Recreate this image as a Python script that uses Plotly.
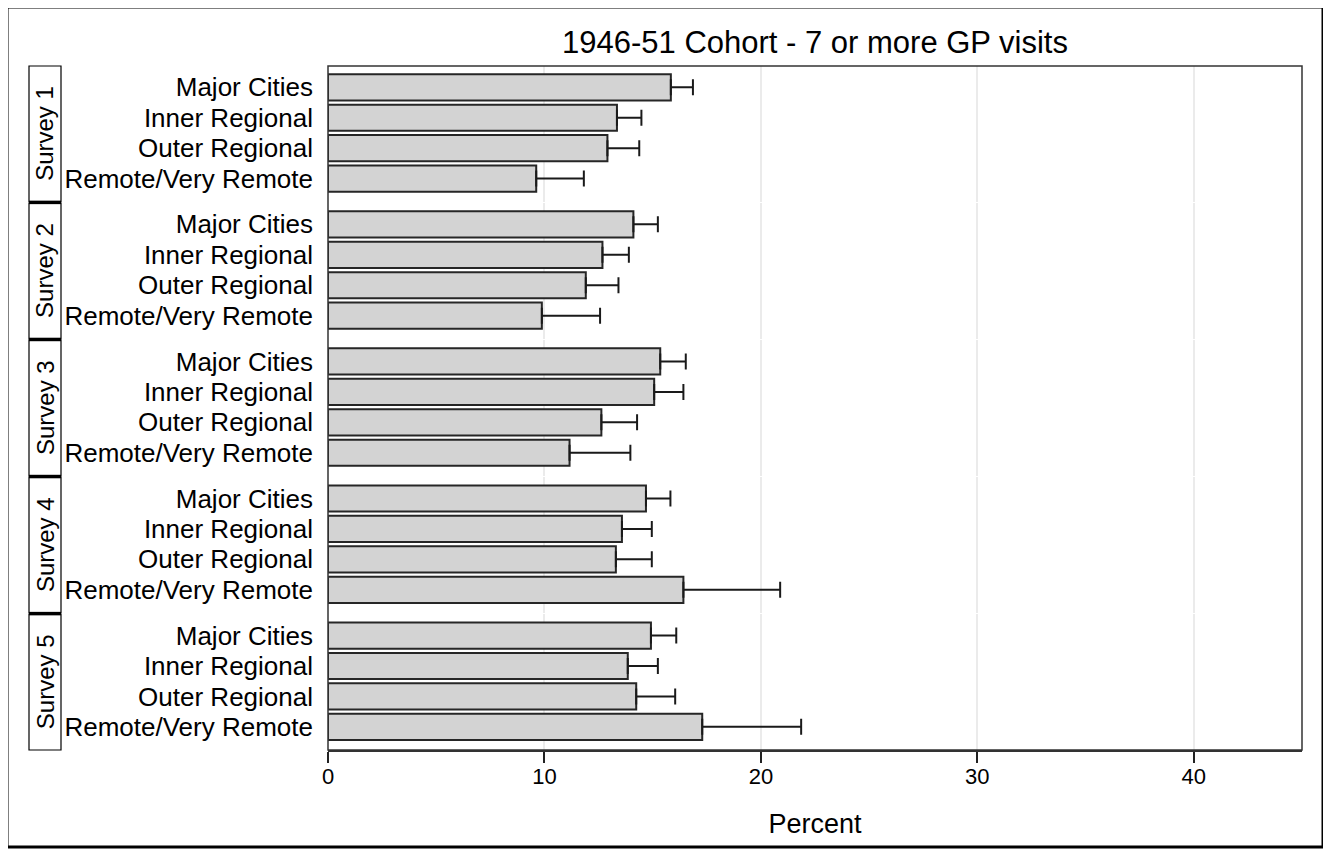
import plotly.graph_objects as go
from plotly.subplots import make_subplots

surveys = ["Survey 1", "Survey 2", "Survey 3", "Survey 4", "Survey 5"]
regions = ["Major Cities", "Inner Regional", "Outer Regional", "Remote/Very Remote"]

pct_s1 = [15.84, 13.35, 12.91, 9.62]
pct_s2 = [14.11, 12.68, 11.91, 9.88]
pct_s3 = [15.35, 15.07, 12.63, 11.16]
pct_s4 = [14.69, 13.58, 13.30, 16.42]
pct_s5 = [14.92, 13.85, 14.24, 17.29]

upper_s1 = [16.86, 14.48, 14.38, 11.82]
upper_s2 = [15.24, 13.90, 13.42, 12.57]
upper_s3 = [16.53, 16.42, 14.28, 13.97]
upper_s4 = [15.82, 14.96, 14.96, 20.89]
upper_s5 = [16.09, 15.24, 16.04, 21.86]

x_ticks = [0, 10, 20, 30, 40]

pcts = [pct_s1, pct_s2, pct_s3, pct_s4, pct_s5]
uppers = [upper_s1, upper_s2, upper_s3, upper_s4, upper_s5]

# page offset of the browser body (default 8px margin)
O = 8
W, H = 1331 - O, 854 - O
L, T = 328 - O, 66 - O
R = W - (1302 - O)
B = H - (750 - O)
pw = W - L - R
ph = H - T - B

FONT = "Liberation Sans, Arial, sans-serif"

fig = make_subplots(rows=5, cols=1, shared_xaxes=True, vertical_spacing=0.002)

for i in range(5):
    p = pcts[i]
    u = uppers[i]
    fig.add_trace(go.Bar(
        x=p, y=regions, orientation="h", width=0.86,
        marker=dict(color="#d3d3d3", line=dict(color="#262626", width=2)),
        error_x=dict(type="data", symmetric=False,
                     array=[a - b for a, b in zip(u, p)],
                     arrayminus=[0] * len(p),
                     color="#1a1a1a", thickness=2, width=8),
        showlegend=False, hoverinfo="x+y",
    ), row=i + 1, col=1)
    fig.update_yaxes(row=i + 1, col=1, type="category",
                     categoryorder="array", categoryarray=regions,
                     tickmode="array", tickvals=regions, ticktext=regions,
                     range=[3.76, -0.70], showgrid=False, zeroline=False,
                     showline=False, ticks="", ticklabelstandoff=14,
                     tickfont=dict(family=FONT, size=26, color="black"))
    fig.update_xaxes(row=i + 1, col=1, range=[0, 45], tickvals=x_ticks,
                     showgrid=True, gridcolor="#ebebeb", gridwidth=1.5,
                     zeroline=False, showline=False)

fig.update_xaxes(row=5, col=1, showline=True, linecolor="#333333", linewidth=1.5,
                 ticks="outside", ticklen=11, tickwidth=1.5, tickcolor="#222222",
                 ticklabelstandoff=-5,
                 tickfont=dict(family=FONT, size=22, color="black"),
                 title=dict(text="Percent", font=dict(family=FONT, size=27, color="black"),
                            standoff=26))

shapes = []
annotations = []
sx0 = (29 - O - L) / pw
sx1 = (61 - O - L) / pw
doms = []
for i in range(5):
    key = "yaxis" if i == 0 else f"yaxis{i + 1}"
    doms.append(fig.layout[key].domain)
for i in range(5):
    d = doms[i]
    shapes.append(dict(type="rect", xref="paper", yref="paper", x0=sx0, x1=sx1,
                       y0=d[0], y1=d[1], line=dict(color="black", width=1.2),
                       fillcolor="white"))
    annotations.append(dict(text=surveys[i], xref="paper", yref="paper",
                            x=(sx0 + sx1) / 2, y=(d[0] + d[1]) / 2, textangle=-90,
                            showarrow=False, xanchor="center", yanchor="middle",
                            font=dict(family=FONT, size=24, color="black")))
for i in range(4):
    yb = (doms[i][0] + doms[i + 1][1]) / 2
    shapes.append(dict(type="line", xref="paper", yref="paper", x0=sx0, x1=sx1,
                       y0=yb, y1=yb, line=dict(color="black", width=3.5)))
# plot border
shapes.append(dict(type="rect", xref="paper", yref="paper", x0=0, x1=1, y0=0, y1=1,
                   line=dict(color="#333333", width=1.5)))
# outer frame
shapes.append(dict(type="rect", xref="paper", yref="paper",
                   x0=(7 - O - L) / pw, x1=(1323 - O - L) / pw,
                   y0=(ph - (847 - O - T)) / ph, y1=(ph - (7 - O - T)) / ph,
                   line=dict(color="black", width=3)))

fig.update_layout(
    width=W, height=H,
    margin=dict(l=L, r=R, t=T, b=B),
    paper_bgcolor="white", plot_bgcolor="white",
    title=dict(text="1946-51 Cohort - 7 or more GP visits", x=(L + pw / 2) / W,
               xanchor="center", y=1 - (42 - O) / H, yanchor="middle",
               font=dict(family=FONT, size=31, color="black")),
    shapes=shapes, annotations=annotations,
)

fig.write_html("out.html")
